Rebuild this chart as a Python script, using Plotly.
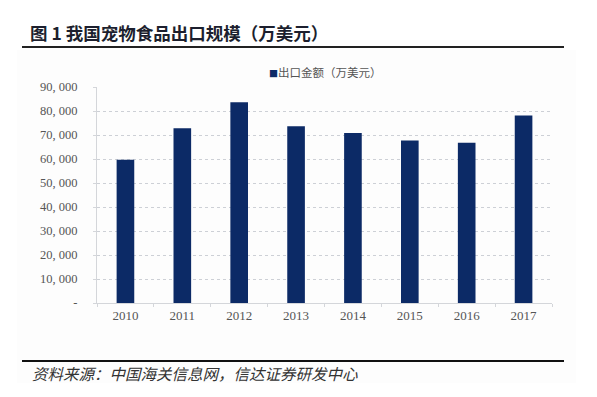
import plotly.graph_objects as go

years = ["2010", "2011", "2012", "2013", "2014", "2015", "2016", "2017"]
export_value = [59700, 72800, 83600, 73600, 70800, 67700, 66800, 78100]
y_tickvals = [0, 10000, 20000, 30000, 40000, 50000, 60000, 70000, 80000, 90000]
y_ticktext = ["-", "10, 000", "20, 000", "30, 000", "40, 000", "50, 000",
              "60, 000", "70, 000", "80, 000", "90, 000"]
series_name = "出口金额（万美元）"
title_text = "图 1 我国宠物食品出口规模（万美元）"
source_text = "资料来源：中国海关信息网，信达证券研发中心"

BAR = "#0c2a66"
SERIF = "Liberation Serif, Noto Sans CJK SC, serif"
CJK = "Noto Sans CJK SC, sans-serif"

W, H = 597, 397
L, R, T, B = 97, 552, 87, 303


def px(x):
    return (x - L) / (R - L)


def py(y):
    return (B - y) / (B - T)


fig = go.Figure()
fig.add_trace(go.Bar(
    x=years, y=export_value, name=series_name,
    marker=dict(color=BAR, line=dict(width=0)),
    showlegend=False, hoverinfo="skip",
))

fig.update_layout(
    width=W, height=H,
    margin=dict(l=L, r=W - R, t=T, b=H - B, pad=0),
    paper_bgcolor="white", plot_bgcolor="rgba(0,0,0,0)",
    bargap=0.69,
    xaxis=dict(
        type="category", showline=True, linecolor="#d4d6da", linewidth=1,
        ticks="outside", tickson="boundaries", ticklen=3, tickcolor="#d4d6da",
        tickfont=dict(family=SERIF, size=13, color="#555555"),
        showgrid=False, fixedrange=True,
    ),
    yaxis=dict(
        range=[0, 90000], tickvals=y_tickvals, ticktext=y_ticktext,
        showline=True, linecolor="#d4d6da", linewidth=1,
        ticks="outside", ticklen=3, tickcolor="#d4d6da",
        tickfont=dict(family=SERIF, size=12.5, color="#555555"),
        showgrid=True, gridcolor="#cdd0d6", griddash="dot", gridwidth=1,
        zeroline=False, ticklabelstandoff=13, fixedrange=True,
    ),
    shapes=[
        dict(type="rect", xref="paper", yref="paper",
             x0=px(17), x1=px(576), y0=py(383), y1=py(50),
             fillcolor="#fdfdfd", line=dict(width=0), layer="below"),
        dict(type="line", xref="paper", yref="paper",
             x0=px(22), x1=px(564), y0=py(47), y1=py(47),
             line=dict(color="#222222", width=2)),
        dict(type="line", xref="paper", yref="paper",
             x0=px(22), x1=px(564), y0=py(361), y1=py(361),
             line=dict(color="#111111", width=2)),
    ],
    annotations=[
        dict(text="<b>" + title_text + "</b>", xref="paper", yref="paper",
             x=px(28), y=py(32), xanchor="left", yanchor="middle",
             showarrow=False, font=dict(family=CJK, size=17.5, color="#1c1f2e")),
        dict(text="<span style='color:" + BAR + ";font-size:9px'>■</span>" + series_name,
             xref="paper", yref="paper",
             x=px(325), y=py(72), xanchor="center", yanchor="middle",
             showarrow=False, font=dict(family=CJK, size=11.5, color="#555555")),
        dict(text="<i>" + source_text + "</i>", xref="paper", yref="paper",
             x=px(30), y=py(373), xanchor="left", yanchor="middle",
             showarrow=False, font=dict(family=CJK, size=15.5, color="#333333")),
    ],
)

fig.write_html("out.html", config={"displayModeBar": False},
               post_script="document.body.style.margin='0';")
